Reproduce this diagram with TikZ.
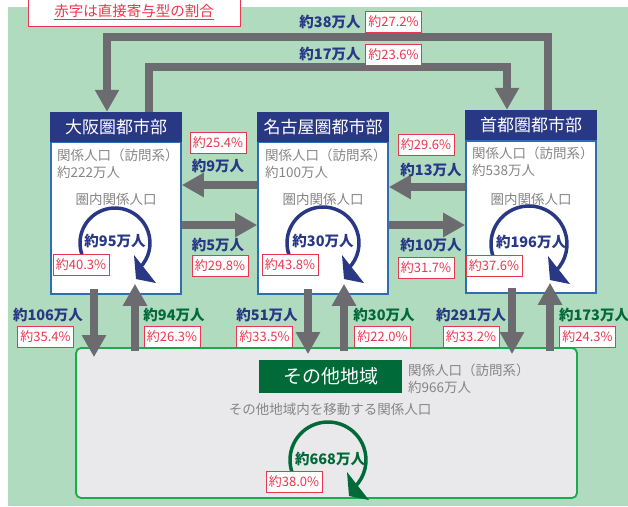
\documentclass[tikz,border=0pt]{standalone}
\usepackage{fontspec}
\setmainfont{Noto Sans CJK JP}
\usetikzlibrary{arrows.meta}
\definecolor{bggreen}{HTML}{B1DBBF}
\definecolor{navy}{HTML}{283885}
\definecolor{boxblue}{HTML}{2F6DB5}
\definecolor{arrowgray}{HTML}{6C6C70}
\definecolor{redc}{HTML}{E8384F}
\definecolor{dkgreen}{HTML}{006A38}
\definecolor{graytxt}{HTML}{858585}
\definecolor{lightfill}{HTML}{E9E9EC}
\definecolor{othergreen}{HTML}{1DAA4F}
\newcommand\myloop[3]{%
  \draw[#3, line width=3.5pt] (#1) ++(160:#2) arc[start angle=160, end angle=405, radius=#2];
  \fill[#3] ([shift={(19,12)}]#1) -- ([shift={(21,36)}]#1) -- ([shift={(41,40)}]#1) -- cycle;}
\tikzset{
  pct/.style={draw=redc, line width=0.9pt, fill=white, text=redc, font=\fontsize{13}{14}\selectfont, minimum width=56pt, minimum height=21pt, inner sep=1pt},
  lblb/.style={text=navy, font=\bfseries\fontsize{14.5}{15}\selectfont, inner sep=0pt},
  lblg/.style={text=dkgreen, font=\bfseries\fontsize{14.5}{15}\selectfont, inner sep=0pt},
  gtext/.style={text=graytxt, font=\fontsize{13.5}{15}\selectfont, inner sep=0pt},
  hdr/.style={fill=navy, text=white, font=\fontsize{17}{18}\selectfont, minimum width=132pt, minimum height=30pt, inner sep=0pt},
  bodybox/.style={draw=boxblue, line width=1.6pt, fill=white, minimum width=130pt, minimum height=152pt, inner sep=0pt},
  garrow/.style={draw=arrowgray, line width=8pt, -{Triangle[width=23pt,length=22pt]}},
}
\begin{document}
\begin{tikzpicture}[x=1pt,y=-1pt]
\useasboundingbox (0,0) rectangle (628,506);
\fill[white] (0,0) rectangle (628,506);
\fill[bggreen] (8,7) rectangle (628,506);

% legend
\node[draw=redc, fill=white, line width=1pt, minimum width=212pt, minimum height=28pt, inner sep=0pt, text=redc, font=\fontsize{14.5}{15}\selectfont] (legend) at (134,12) {\underline{赤字は直接寄与型の割合}};

% city boxes
\node[bodybox] (osaka) at (116,218) {};
\node[bodybox] (nagoya) at (323,218) {};
\node[bodybox] (tokyo) at (531,217) {};
\node[hdr] (osakaH) at (116,127) {大阪圏都市部};
\node[hdr] (nagoyaH) at (323,127) {名古屋圏都市部};
\node[hdr] (tokyoH) at (531,125) {首都圏都市部};

% other region
\node[draw=othergreen, line width=1.8pt, fill=lightfill, rounded corners=5pt, minimum width=501pt, minimum height=150pt, inner sep=0pt] (other) at (326.5,423) {};
\node[fill=dkgreen, text=white, font=\fontsize{19}{20}\selectfont, minimum width=143pt, minimum height=33pt, inner sep=0pt] (otherH) at (330.5,376.5) {その他地域};

% texts inside boxes
\node[gtext, anchor=west] (o1) at (57,155) {関係人口（訪問系）};
\node[gtext, anchor=west] (o2) at (57,172) {約222万人};
\node[gtext] (o3) at (116,199) {圏内関係人口};
\node[gtext, anchor=west] (n1) at (265,155) {関係人口（訪問系）};
\node[gtext, anchor=west] (n2) at (265,172) {約100万人};
\node[gtext] (n3) at (323,199) {圏内関係人口};
\node[gtext, anchor=west] (t1) at (472,153) {関係人口（訪問系）};
\node[gtext, anchor=west] (t2) at (472,170) {約538万人};
\node[gtext] (t3) at (531,199) {圏内関係人口};
\node[gtext, anchor=west] (x1) at (408,370) {関係人口（訪問系）};
\node[gtext, anchor=west] (x2) at (408,387) {約966万人};
\node[gtext] (x3) at (330,409) {その他地域内を移動する関係人口};

% top connectors
\draw[garrow] (tokyoH.north -| 548,0) -- (548,37) -- (107,37) -- (osakaH.north -| 107,0);
\draw[garrow] (osakaH.north -| 149,0) -- (149,67) -- (507,67) -- (tokyoH.north -| 507,0);

% horizontal connectors
\draw[garrow] (nagoya.west |- 0,185) -- (osaka.east |- 0,185);
\draw[garrow] (osaka.east |- 0,225) -- (nagoya.west |- 0,225);
\draw[garrow] (tokyo.west |- 0,187) -- (nagoya.east |- 0,187);
\draw[garrow] (nagoya.east |- 0,225) -- (tokyo.west |- 0,225);

% vertical connectors
\draw[garrow, shorten <=-6pt, shorten >=-10pt] (osaka.south -| 94,0) -- (other.north -| 94,0);
\draw[garrow, shorten <=-4pt, shorten >=-11pt] (other.north -| 135,0) -- (osaka.south -| 135,0);
\draw[garrow, shorten <=-6pt, shorten >=-7pt] (nagoya.south -| 308,0) -- (other.north -| 308,0);
\draw[garrow, shorten <=-4pt, shorten >=-11pt] (other.north -| 344,0) -- (nagoya.south -| 344,0);
\draw[garrow, shorten <=-6pt, shorten >=-7pt] (tokyo.south -| 512,0) -- (other.north -| 512,0);
\draw[garrow, shorten <=-4pt, shorten >=-11pt] (other.north -| 550,0) -- (tokyo.south -| 550,0);

% loops
\coordinate (oc) at (115,243);
\coordinate (nc) at (323,243);
\coordinate (tc) at (529,244);
\coordinate (xc) at (328,460);
\myloop{oc}{35}{navy}
\myloop{nc}{36}{navy}
\myloop{tc}{38}{navy}
\myloop{xc}{38}{dkgreen}
\node[lblb] (ol) at (115,241) {約95万人};
\node[lblb] (nl) at (323,241) {約30万人};
\node[lblb] (tl) at (531,242) {約196万人};
\node[lblg] (xl) at (330,459) {約668万人};
\node[pct] (op) at (81,265) {約40.3\%};
\node[pct] (np) at (290,265) {約43.8\%};
\node[pct] (tp) at (494,266) {約37.6\%};
\node[pct] (xp) at (294,481.5) {約38.0\%};

% top labels
\node[lblb] (l38) at (330,22) {約38万人};
\node[pct] (p38) at (393.5,22) {約27.2\%};
\node[lblb] (l17) at (330,54) {約17万人};
\node[pct] (p17) at (393.5,55) {約23.6\%};

% horizontal labels
\node[pct] (p9) at (218,143) {約25.4\%};
\node[lblb] (l9) at (218,166) {約9万人};
\node[lblb] (l5) at (218,245) {約5万人};
\node[pct] (p5) at (220,266) {約29.8\%};
\node[pct] (p13) at (426,145) {約29.6\%};
\node[lblb] (l13) at (431,170) {約13万人};
\node[lblb] (l10) at (431,245) {約10万人};
\node[pct] (p10) at (426,268) {約31.7\%};

% vertical labels
\node[lblb] (l106) at (48,315) {約106万人};
\node[pct] (p106) at (45.5,336.5) {約35.4\%};
\node[lblg] (l94) at (174,315) {約94万人};
\node[pct] (p94) at (172,336.5) {約26.3\%};
\node[lblb] (l51) at (267,315) {約51万人};
\node[pct] (p51) at (264.5,336.5) {約33.5\%};
\node[lblg] (l30) at (384,315) {約30万人};
\node[pct] (p30) at (382.5,336.5) {約22.0\%};
\node[lblb] (l291) at (471,315) {約291万人};
\node[pct] (p291) at (471,336.5) {約33.2\%};
\node[lblg] (l173) at (594,315) {約173万人};
\node[pct] (p173) at (587.5,336.5) {約24.3\%};
\end{tikzpicture}
\end{document}
